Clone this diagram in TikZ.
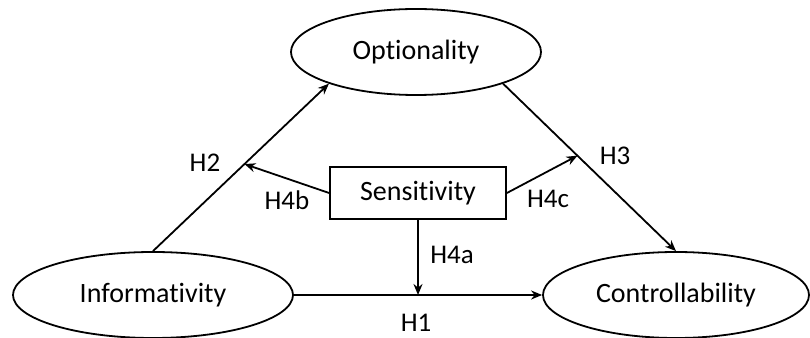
\documentclass[tikz,border=0pt]{standalone}
\usepackage{fontspec}
\setmainfont{Carlito}[Ligatures=NoCommon]
\usetikzlibrary{arrows.meta,positioning,shapes.geometric}

\begin{document}
\begin{tikzpicture}[
      x=1pt,y=1pt,
      construct/.style={
         ellipse,
         draw=black,
         line width=1.8pt,
         inner sep=0pt,
         minimum height=86pt,
         font=\fontsize{28}{34}\selectfont},
      moderator/.style={
         rectangle,
         draw=black,
         line width=1.8pt,
         inner sep=0pt,
         minimum width=176pt,
         minimum height=52pt,
         font=\fontsize{28}{34}\selectfont},
      hyp/.style={font=\fontsize{27}{32}\selectfont, inner sep=0pt},
      myarrow/.style={line width=1.8pt,-{Stealth[length=11pt,width=9pt]}}
      ]
      \useasboundingbox (0,0) rectangle (810,337);

      \node[construct,minimum width=250pt] (opt) at (416,285) {Optionality};
      \node[construct,minimum width=280pt] (inf) at (153,42) {Informativity};
      \node[construct,minimum width=266pt] (con) at (676,42) {Controllability};
      \node[moderator] (sens) at (418,144) {Sensitivity};

      % main paths
      \draw [myarrow] (inf.north) -- coordinate[pos=0.52] (h2mid) (opt.200);
      \draw [myarrow] (opt.-20) -- coordinate[pos=0.43] (h3mid) (con.north);
      \draw [myarrow] (inf.east) -- (con.west);

      % moderation
      \coordinate (h1mid) at (sens.south |- inf.east);
      \draw [myarrow] (sens.south) -- (h1mid);
      \draw [myarrow] (sens.west) -- (h2mid);
      \draw [myarrow] (sens.east) -- (h3mid);

      \node[hyp] (lh1) at (416,14) {H1};
      \node[hyp] (lh2) at (205,174) {H2};
      \node[hyp] (lh3) at (615,181) {H3};
      \node[hyp] (lh4a) at (452,82) {H4a};
      \node[hyp] (lh4b) at (287,137) {H4b};
      \node[hyp] (lh4c) at (548,138) {H4c};
\end{tikzpicture}
\end{document}
